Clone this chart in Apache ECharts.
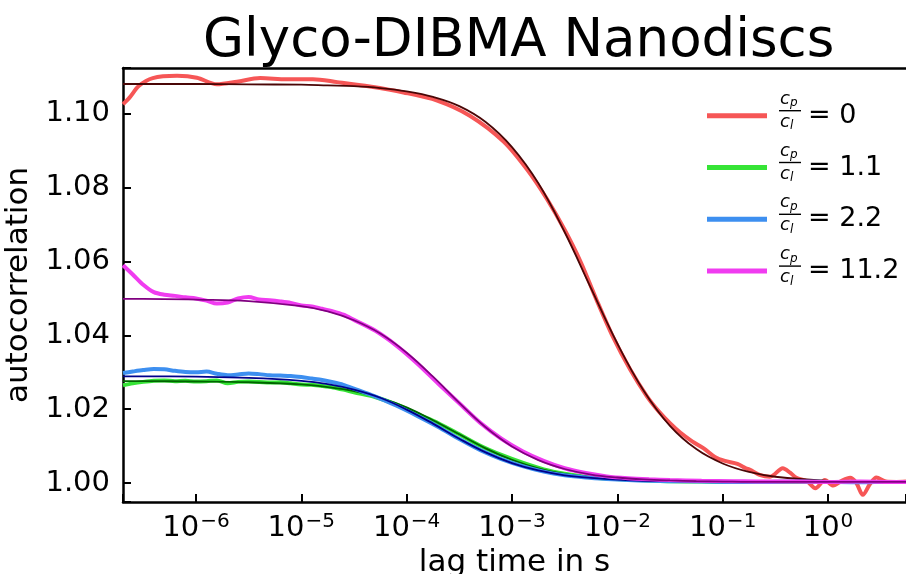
<!DOCTYPE html>
<html>
<head>
<meta charset="utf-8">
<script src="https://cdn.jsdelivr.net/npm/echarts@6/dist/echarts.min.js"></script>
<style>
  html, body { margin: 0; padding: 0; background: #fff; }
  #main { width: 906px; height: 574px; }
</style>
</head>
<body>
<div id="main"></div>
<script>
// lag times (s) of the measured curves
const lagRed = [2.03e-7, 2.34e-7, 2.88e-7, 3.89e-7, 6.61e-7, 1.02e-6, 1.58e-6, 2.45e-6, 4.07e-6, 7.24e-6,
  1.29e-5, 2.19e-5, 4.47e-5, 9.33e-5, 1.95e-4, 3.98e-4, 8.32e-4, 1.41e-3, 2.14e-3, 3.16e-3,
  4.47e-3, 6.31e-3, 9.12e-3, 1.32e-2, 1.91e-2, 2.51e-2, 3.16e-2, 3.98e-2, 5.13e-2, 6.61e-2,
  8.51e-2, 0.105, 0.138, 0.166, 0.182, 0.224, 0.282, 0.372, 0.437, 0.501,
  0.631, 0.759, 0.933, 1.12, 1.35, 1.62, 1.86, 2.14, 2.51, 2.88, 3.55, 4.47, 5.5];
const dataRed = [1.1026, 1.1044, 1.1076, 1.1097, 1.1103, 1.1098, 1.1080, 1.1087, 1.1097, 1.1094,
  1.1094, 1.1086, 1.1074, 1.1058, 1.1036, 1.0995, 1.0925, 1.0847, 1.0770, 1.0686,
  1.0600, 1.0498, 1.0395, 1.0308, 1.0235, 1.0192, 1.0162, 1.0136, 1.0113, 1.0094,
  1.0070, 1.0060, 1.0052, 1.0040, 1.0036, 1.0022, 1.0017, 1.0040, 1.0028, 1.0014,
  1.0005, 0.9986, 1.0008, 0.9993, 1.0006, 1.0014, 1.0000, 0.9968, 0.9998, 1.0015, 1.0004, 1.0003, 1.0004];

const lagLow = [2.03e-7, 2.51e-7, 3.16e-7, 3.98e-7, 5.01e-7, 6.31e-7, 7.94e-7, 1e-6, 1.26e-6, 1.58e-6,
  2e-6, 2.51e-6, 3.16e-6, 3.98e-6, 5.01e-6, 6.31e-6, 7.94e-6, 1e-5, 1.26e-5, 1.58e-5,
  2e-5, 2.51e-5, 3.16e-5, 5.01e-5, 7.94e-5, 1.26e-4, 2e-4, 3.16e-4, 5.01e-4, 7.94e-4,
  1.26e-3, 2e-3, 3.16e-3, 5.01e-3, 7.94e-3, 1.26e-2, 2e-2, 3.16e-2, 6.31e-2, 0.126,
  0.251, 0.501, 1, 2, 3.98, 5.5];
const dataGreen = [1.0265, 1.0270, 1.0274, 1.0277, 1.0278, 1.0276, 1.0277, 1.0275, 1.0276, 1.0278,
  1.0270, 1.0274, 1.0275, 1.0274, 1.0272, 1.0273, 1.0270, 1.0267, 1.0266, 1.0263,
  1.0259, 1.0253, 1.0246, 1.0233, 1.0213, 1.0187, 1.0162, 1.0132, 1.0101, 1.0076,
  1.0055, 1.0037, 1.0025, 1.0017, 1.0012, 1.0009, 1.0007, 1.0005, 1.0004, 1.0003,
  1.0003, 1.0003, 1.0003, 1.0003, 1.0003, 1.0003];
const dataBlue = [1.0298, 1.0302, 1.0306, 1.0309, 1.0308, 1.0304, 1.0301, 1.0300, 1.0302, 1.0296,
  1.0292, 1.0294, 1.0297, 1.0295, 1.0292, 1.0291, 1.0290, 1.0287, 1.0283, 1.0279,
  1.0273, 1.0266, 1.0256, 1.0235, 1.0210, 1.0182, 1.0152, 1.0119, 1.0089, 1.0065,
  1.0046, 1.0031, 1.0021, 1.0015, 1.0011, 1.0008, 1.0006, 1.0005, 1.0004, 1.0003,
  1.0003, 1.0004, 1.0003, 1.0002, 1.0003, 1.0003];
const dataMagenta = [1.0590, 1.0565, 1.0537, 1.0517, 1.0510, 1.0507, 1.0503, 1.0500, 1.0494, 1.0486,
  1.0489, 1.0500, 1.0504, 1.0497, 1.0495, 1.0492, 1.0488, 1.0481, 1.0478, 1.0472,
  1.0465, 1.0456, 1.0442, 1.0413, 1.0373, 1.0324, 1.0269, 1.0216, 1.0163, 1.0120,
  1.0086, 1.0060, 1.0040, 1.0027, 1.0018, 1.0013, 1.0010, 1.0008, 1.0006, 1.0005,
  1.0004, 1.0004, 1.0003, 1.0004, 1.0003, 1.0003];

// fitted curves
const lagFit = [2.03e-7, 3.16e-7, 1e-6, 3.16e-6, 1e-5, 1.78e-5, 3.16e-5, 5.62e-5, 1e-4, 1.78e-4,
  3.16e-4, 5.62e-4, 1e-3, 1.78e-3, 3.16e-3, 5.62e-3, 1e-2, 1.78e-2, 3.16e-2, 5.62e-2,
  0.1, 0.178, 0.316, 1, 3.16, 5.5];
const fitRed = [1.1081, 1.1081, 1.1081, 1.1080, 1.1079, 1.1077, 1.1075, 1.1070, 1.1061, 1.1046,
  1.1021, 1.0978, 1.0910, 1.0812, 1.0680, 1.0528, 1.0378, 1.0250, 1.0155, 1.0092,
  1.0053, 1.0030, 1.0017, 1.0006, 1.0003, 1.0003];
const fitGreen = [1.0276, 1.0276, 1.0275, 1.0273, 1.0267, 1.0260, 1.0249, 1.0231, 1.0205, 1.0170,
  1.0132, 1.0094, 1.0063, 1.0040, 1.0025, 1.0016, 1.0010, 1.0007, 1.0005, 1.0004,
  1.0003, 1.0003, 1.0003, 1.0003, 1.0003, 1.0003];
const fitBlue = [1.0289, 1.0289, 1.0288, 1.0285, 1.0277, 1.0268, 1.0253, 1.0231, 1.0199, 1.0161,
  1.0120, 1.0083, 1.0054, 1.0034, 1.0021, 1.0014, 1.0009, 1.0006, 1.0005, 1.0004,
  1.0003, 1.0003, 1.0003, 1.0003, 1.0003, 1.0003];
const fitMagenta = [1.0499, 1.0499, 1.0497, 1.0493, 1.0479, 1.0465, 1.0441, 1.0405, 1.0353, 1.0288,
  1.0217, 1.0151, 1.0099, 1.0062, 1.0038, 1.0023, 1.0015, 1.0010, 1.0007, 1.0005,
  1.0004, 1.0003, 1.0003, 1.0003, 1.0003, 1.0003];

const ratios = ['0', '1.1', '2.2', '11.2'];
const dataColors = ['#f65656', '#36e436', '#3d8ff0', '#f03cf0'];
const fitColors = ['#4a0606', '#006400', '#00008b', '#800080'];

const FONT = 'DejaVu Sans';
const chart = echarts.init(document.getElementById('main'));

const pairs = (lag, vals) => lag.map((t, i) => [t, vals[i]]);
const measured = [pairs(lagRed, dataRed), pairs(lagLow, dataGreen), pairs(lagLow, dataBlue), pairs(lagLow, dataMagenta)];
const fitted = [pairs(lagFit, fitRed), pairs(lagFit, fitGreen), pairs(lagFit, fitBlue), pairs(lagFit, fitMagenta)];

let series = [];
ratios.forEach((r, i) => {
  series.push({
    name: r, type: 'line', data: measured[i], showSymbol: false, smooth: 0.3,
    lineStyle: { color: dataColors[i], width: 4 }, itemStyle: { color: dataColors[i] },
  });
  series.push({
    name: 'fit ' + r, type: 'line', data: fitted[i], showSymbol: false, smooth: 0.4,
    lineStyle: { color: fitColors[i], width: 1.8 }, itemStyle: { color: fitColors[i] },
  });
});

// legend row centres, used for the c_p / c_l fractions
const legTop = 110.7, legStep = 51.8;
let graphics = [];
ratios.forEach((r, i) => {
  let cy = legTop + legStep * i;
  let rich = {
    c: { fontFamily: FONT, fontStyle: 'italic', fontSize: 18, fill: '#000' },
    s: { fontFamily: FONT, fontStyle: 'italic', fontSize: 12, fill: '#000', padding: [8, 0, 0, 0] },
  };
  graphics.push({ type: 'text', x: 780, y: cy - 1.5, style: { text: '{c|c}{s|p}', rich, verticalAlign: 'bottom' } });
  graphics.push({ type: 'rect', shape: { x: 779, y: cy - 0.7, width: 22, height: 1.4 }, style: { fill: '#000' } });
  graphics.push({ type: 'text', x: 780, y: cy + 1.5, style: { text: '{c|c}{s|l}', rich, verticalAlign: 'top' } });
});

const isStep = (v, step) => Math.abs(v / step - Math.round(v / step)) < 1e-6;

chart.setOption({
  animation: false,
  backgroundColor: '#fff',
  title: {
    text: 'Glyco-DIBMA Nanodiscs',
    left: 198, top: 11,
    textStyle: { fontFamily: FONT, fontSize: 53, fontWeight: 'normal', color: '#000' },
  },
  legend: {
    data: ratios,
    orient: 'vertical',
    left: 702, top: legTop - 15,
    itemWidth: 60, itemHeight: 5, itemGap: legStep - 30,
    icon: 'rect',
    selectedMode: false,
    formatter: name => '= ' + name,
    textStyle: { fontFamily: FONT, fontSize: 27, color: '#000', lineHeight: 30, padding: [0, 0, 0, 36] },
  },
  grid: { left: 123, right: 0, top: 68, bottom: 72, outerBoundsMode: 'none', containLabel: false },
  xAxis: [{
    type: 'log', logBase: 10, min: 2.03e-7, max: 5.5,
    name: 'lag time in s', nameLocation: 'middle', nameGap: 38,
    nameTextStyle: { fontFamily: FONT, fontSize: 31, color: '#000' },
    axisLine: { show: true, onZero: false, lineStyle: { color: '#000', width: 2.5 } },
    axisTick: { show: true, inside: true, length: 8, lineStyle: { color: '#000', width: 2 } },
    splitLine: { show: false },
    minorTick: { show: false },
    axisLabel: {
      margin: 10, color: '#000',
      formatter: v => {
        let e = Math.log10(v);
        if (Math.abs(e - Math.round(e)) > 1e-6) return '';
        e = Math.round(e);
        return '{b|10}{s|' + (e < 0 ? '\u2212' + (-e) : e) + '}';
      },
      rich: {
        b: { fontFamily: FONT, fontSize: 29, color: '#000' },
        s: { fontFamily: FONT, fontSize: 20, color: '#000', verticalAlign: 'top', padding: [0, 0, 12, 1] },
      },
    },
  }, {
    type: 'log', logBase: 10, min: 2.03e-7, max: 5.5, position: 'top',
    axisLine: { show: true, onZero: false, lineStyle: { color: '#000', width: 2.5 } },
    axisTick: { show: false }, axisLabel: { show: false }, splitLine: { show: false },
  }],
  yAxis: {
    type: 'value', min: 0.99486, max: 1.11243,
    name: 'autocorrelation', nameLocation: 'middle', nameGap: 88,
    nameTextStyle: { fontFamily: FONT, fontSize: 31, color: '#000' },
    axisLine: { show: true, lineStyle: { color: '#000', width: 2.5 } },
    axisTick: { show: true, inside: true, length: 8, lineStyle: { color: '#000', width: 2 } },
    splitLine: { show: false },
    axisLabel: {
      margin: 13, fontFamily: FONT, fontSize: 29, color: '#000',
      formatter: v => isStep(v, 0.02) ? v.toFixed(2) : '',
    },
  },
  graphic: graphics,
  series: series,
});
</script>
</body>
</html>
